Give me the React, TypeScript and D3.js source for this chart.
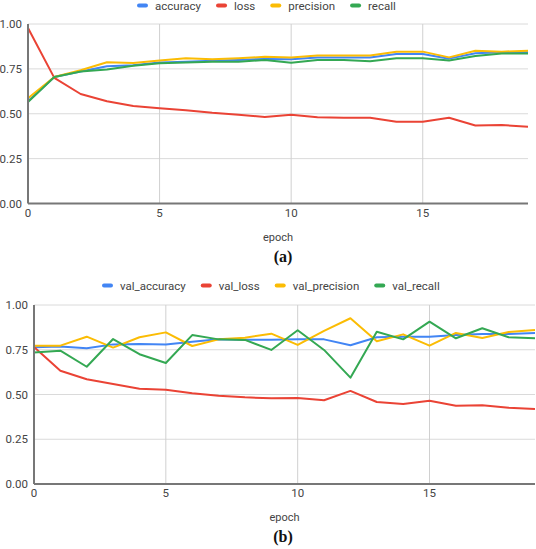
import React, { useEffect, useRef } from 'react';
import * as d3 from 'd3';

const epochs = d3.range(0, 20);

const accuracy = [0.57, 0.705, 0.735, 0.765, 0.77, 0.785, 0.79, 0.795, 0.8, 0.805, 0.803, 0.814, 0.814, 0.814, 0.833, 0.833, 0.807, 0.837, 0.842, 0.842];
const loss = [0.978, 0.7, 0.61, 0.57, 0.543, 0.53, 0.52, 0.505, 0.495, 0.482, 0.494, 0.48, 0.478, 0.478, 0.455, 0.455, 0.478, 0.435, 0.437, 0.428];
const precision = [0.586, 0.705, 0.742, 0.787, 0.783, 0.796, 0.809, 0.803, 0.809, 0.817, 0.814, 0.824, 0.824, 0.824, 0.846, 0.846, 0.814, 0.851, 0.846, 0.851];
const recall = [0.565, 0.705, 0.735, 0.747, 0.768, 0.781, 0.785, 0.79, 0.79, 0.8, 0.784, 0.8, 0.8, 0.792, 0.809, 0.809, 0.797, 0.822, 0.836, 0.836];

const valAccuracy = [0.764, 0.768, 0.758, 0.78, 0.782, 0.779, 0.795, 0.808, 0.806, 0.806, 0.808, 0.808, 0.775, 0.82, 0.823, 0.823, 0.832, 0.838, 0.838, 0.844];
const valLoss = [0.765, 0.633, 0.585, 0.559, 0.532, 0.527, 0.507, 0.493, 0.484, 0.479, 0.481, 0.468, 0.52, 0.458, 0.447, 0.465, 0.437, 0.44, 0.426, 0.419];
const valPrecision = [0.773, 0.773, 0.823, 0.762, 0.82, 0.847, 0.771, 0.808, 0.817, 0.84, 0.777, 0.855, 0.926, 0.797, 0.836, 0.773, 0.844, 0.816, 0.849, 0.86];
const valRecall = [0.734, 0.745, 0.655, 0.81, 0.725, 0.676, 0.832, 0.808, 0.805, 0.749, 0.859, 0.749, 0.594, 0.851, 0.808, 0.907, 0.814, 0.87, 0.82, 0.814];

const yTicks = [0, 0.25, 0.5, 0.75, 1];
const xTicks = [0, 5, 10, 15];
const colors = ['#4285f4', '#ea4335', '#fbbc04', '#34a853'];

const panels = [
  {
    names: ['accuracy', 'loss', 'precision', 'recall'],
    series: [accuracy, loss, precision, recall],
    caption: '(a)',
    left: 28, right: 528, top: 24, bottom: 203.5,
    legendX: 137, legendY: 5.5,
  },
  {
    names: ['val_accuracy', 'val_loss', 'val_precision', 'val_recall'],
    series: [valAccuracy, valLoss, valPrecision, valRecall],
    caption: '(b)',
    left: 34, right: 535, top: 305, bottom: 484,
    legendX: 102, legendY: 285.5,
  },
];

const font = 'Roboto, Arial, sans-serif';

export default function App() {
  const ref = useRef<SVGSVGElement>(null);

  useEffect(() => {
    const svg = d3.select(ref.current);
    svg.selectAll('*').remove();

    panels.forEach(p => {
      const g = svg.append('g');
      const x = d3.scaleLinear().domain([0, 19]).range([p.left, p.right]);
      const y = d3.scaleLinear().domain([0, 1]).range([p.bottom, p.top]);

      // grid
      g.selectAll('.hgrid')
        .data(yTicks.slice(1))
        .enter()
        .append('line')
        .attr('x1', p.left)
        .attr('x2', p.right)
        .attr('y1', d => y(d))
        .attr('y2', d => y(d))
        .attr('stroke', '#dadada')
        .attr('stroke-width', 1);
      g.selectAll('.vgrid')
        .data(xTicks.slice(1))
        .enter()
        .append('line')
        .attr('x1', d => x(d))
        .attr('x2', d => x(d))
        .attr('y1', p.top)
        .attr('y2', p.bottom)
        .attr('stroke', '#d0d0d0')
        .attr('stroke-width', 1);

      // tick labels
      g.selectAll('.ylab')
        .data(yTicks)
        .enter()
        .append('text')
        .attr('x', p.left - 6)
        .attr('y', d => y(d) + 4)
        .attr('text-anchor', 'end')
        .attr('font-family', font)
        .attr('font-size', 11.5)
        .attr('fill', '#444')
        .text(d => d.toFixed(2));
      g.selectAll('.xlab')
        .data(xTicks)
        .enter()
        .append('text')
        .attr('x', d => x(d))
        .attr('y', p.bottom + 13)
        .attr('text-anchor', 'middle')
        .attr('font-family', font)
        .attr('font-size', 11.5)
        .attr('fill', '#444')
        .text(d => d);

      // lines
      const line = d3
        .line<number>()
        .x((_, i) => x(epochs[i]))
        .y(d => y(d));
      p.series.forEach((s, i) => {
        g.append('path')
          .attr('d', line(s))
          .attr('fill', 'none')
          .attr('stroke', colors[i])
          .attr('stroke-width', 2)
          .attr('stroke-linejoin', 'round');
      });

      // axes
      g.append('line')
        .attr('x1', p.left)
        .attr('x2', p.left)
        .attr('y1', p.top)
        .attr('y2', p.bottom)
        .attr('stroke', '#777')
        .attr('stroke-width', 2);
      g.append('line')
        .attr('x1', p.left)
        .attr('x2', p.right)
        .attr('y1', p.bottom)
        .attr('y2', p.bottom)
        .attr('stroke', '#777')
        .attr('stroke-width', 2);

      g.append('text')
        .attr('x', (p.left + p.right) / 2)
        .attr('y', p.bottom + 37)
        .attr('text-anchor', 'middle')
        .attr('font-family', font)
        .attr('font-size', 11)
        .attr('fill', '#444')
        .text('epoch');

      g.append('text')
        .attr('x', 283)
        .attr('y', p.bottom + 58)
        .attr('text-anchor', 'middle')
        .attr('font-family', '"Liberation Serif", "Times New Roman", serif')
        .attr('font-weight', 'bold')
        .attr('font-size', 16)
        .attr('fill', '#111')
        .text(p.caption);

      // legend
      let lx = p.legendX;
      p.names.forEach((name, i) => {
        g.append('rect')
          .attr('x', lx)
          .attr('y', p.legendY - 2)
          .attr('width', 11)
          .attr('height', 4)
          .attr('rx', 2)
          .attr('fill', colors[i]);
        const t = g
          .append('text')
          .attr('x', lx + 18)
          .attr('y', p.legendY + 4)
          .attr('font-family', font)
          .attr('font-size', 11.5)
          .attr('fill', '#444')
          .text(name);
        const w = (t.node() as SVGTextElement).getComputedTextLength();
        lx += 18 + w + 15;
      });
    });
  }, []);

  return (
    <svg
      ref={ref}
      width={536}
      height={549}
      style={{ position: 'absolute', left: 0, top: 0, background: '#fff' }}
    />
  );
}
